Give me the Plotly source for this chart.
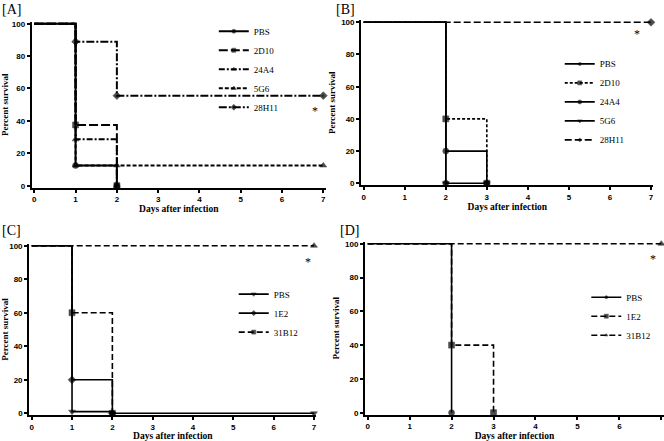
import plotly.graph_objects as go

W, H = 664, 441

# ---------------- data ----------------
# Panel A
A_names = ["PBS", "2D10", "24A4", "5G6", "28H11"]
A_x = [[0, 1, 2], [0, 1, 2], [0, 1, 2], [0, 1, 2, 7], [0, 1, 2, 7]]
A_y = [[100, 12.5, 0], [100, 37.5, 0], [100, 28.6, 0], [100, 12.5, 12.5, 12.5], [100, 88.9, 55.6, 55.6]]
A_sym = ["circle", "square", "triangle-up", "triangle-up", "diamond"]
A_dash = ["solid", "9px,3px", "6px,2px,2px,2px", "4px,2px", "8px,2px,2px,2px"]

# Panel B
B_names = ["PBS", "2D10", "24A4", "5G6", "28H11"]
B_x = [[0, 2], [0, 2, 3], [0, 2, 3], [0, 2, 3], [0, 7]]
B_y = [[100, 0], [100, 40, 0], [100, 20, 0], [100, 0, 0], [100, 100]]
B_sym = ["circle", "square", "circle", "triangle-down", "diamond"]
B_dash = ["solid", "3px,2px", "solid", "solid", "7px,3px"]

# Panel C
C_names = ["PBS", "1E2", "31B12"]
C_x = [[0, 1, 2, 7], [0, 1, 2], [0, 1, 2]]
C_y = [[100, 1, 0, 0], [100, 20, 0], [100, 60, 0]]
C_sym = ["triangle-down", "diamond", "square"]
C_dash = ["solid", "solid", "6px,3px"]
C_extra_x = [0, 7]
C_extra_y = [100, 100]

# Panel D
D_names = ["PBS", "1E2", "31B12"]
D_x = [[0, 2], [0, 2, 3], [0, 7]]
D_y = [[100, 0], [100, 40, 0], [100, 100]]
D_sym = ["circle", "square", "triangle-up"]
D_dash = ["solid", "6px,3px", "6px,3px"]

x_ticks = [0, 1, 2, 3, 4, 5, 6, 7]
y_ticks = [0, 20, 40, 60, 80, 100]
x_title = "Days after infection"
y_title = "Percent survival"
panel_labels = ["[A]", "[B]", "[C]", "[D]"]

# ---------------- layout geometry (pixel positions of x=0, x=7, y=0, y=100) ----------------
XPAD, YPAD = 0.06, 1.2
geo = {
    "A": (34.3, 323.3, 185.7, 23.7),
    "B": (363.7, 651.0, 183.3, 22.3),
    "C": (31.7, 314.0, 413.3, 245.7),
    "D": (367.7, 661.3, 412.7, 243.7),
}


def domains(px0, px7, py0, py100):
    dx = (px7 - px0) / 7.0
    dy = (py0 - py100) / 100.0
    left = px0 - XPAD * dx
    right = px7 + XPAD * dx
    bottom = py0 + YPAD * dy
    top = py100 - YPAD * dy
    return [left / W, right / W], [1 - bottom / H, 1 - top / H]


fig = go.Figure()

panels = [
    ("A", A_names, A_x, A_y, A_sym, A_dash, 2.0),
    ("B", B_names, B_x, B_y, B_sym, B_dash, 1.6),
    ("C", C_names, C_x, C_y, C_sym, C_dash, 1.6),
    ("D", D_names, D_x, D_y, D_sym, D_dash, 1.6),
]

serif = "Liberation Serif, Times New Roman"
tickfont = dict(family="Liberation Sans, Arial", size=8, color="black")
xtitlefont = dict(family=serif, size=9.5, color="black")
ytitlefont = dict(family=serif, size=9, color="black")

legend_pos = {
    "A": (0.322, 0.962),
    "B": (0.843, 0.888),
    "C": (0.352, 0.366),
    "D": (0.883, 0.359),
}

for i, (key, names, xs, ys, syms, dashes, lw) in enumerate(panels):
    n = i + 1
    xa = "x" if n == 1 else f"x{n}"
    ya = "y" if n == 1 else f"y{n}"
    leg = "legend" if n == 1 else f"legend{n}"
    for name, x, y, s, d in zip(names, xs, ys, syms, dashes):
        sizes = [0] + [6] * (len(x) - 1)
        fig.add_trace(go.Scatter(
            x=x, y=y, name=name, mode="lines+markers", line_shape="hv",
            line=dict(color="black", width=lw, dash=d),
            marker=dict(symbol=s, size=sizes, color="black", line=dict(width=0.6, color="black")),
            xaxis=xa, yaxis=ya, legend=leg, cliponaxis=False,
        ))
    if key == "C":
        fig.add_trace(go.Scatter(
            x=C_extra_x, y=C_extra_y, mode="lines+markers", line_shape="hv",
            line=dict(color="black", width=1.6, dash="6px,3px"),
            marker=dict(symbol="triangle-up", size=[0, 6], color="black", line=dict(width=0.6, color="black")),
            xaxis=xa, yaxis=ya, showlegend=False, cliponaxis=False,
        ))
    dx, dy = domains(*geo[key])
    axis_common = dict(
        showgrid=False, zeroline=False, showline=True, linecolor="black", linewidth=2.2,
        ticks="outside", ticklen=3, tickwidth=2, tickcolor="black",
        tickfont=tickfont, mirror=False, automargin=False,
    )
    fig.layout[f"xaxis{'' if n == 1 else n}"] = dict(
        axis_common, domain=dx, range=[-XPAD, 7 + XPAD], tickvals=x_ticks,
        ticktext=[f"<b>{t}</b>" for t in x_ticks], anchor=ya,
        title=dict(text=f"<b>{x_title}</b>", font=xtitlefont, standoff=2),
    )
    fig.layout[f"yaxis{'' if n == 1 else n}"] = dict(
        axis_common, domain=dy, range=[-YPAD, 100 + YPAD], tickvals=y_ticks,
        ticktext=[f"<b>{t}</b>" for t in y_ticks], anchor=xa,
        title=dict(text=f"<b>{y_title}</b>", font=ytitlefont, standoff=4),
    )
    lx, ly = legend_pos[key]
    fig.layout[leg] = dict(
        x=lx, y=ly, xanchor="left", yanchor="top",
        font=dict(family=serif, size=9, color="black"),
        bgcolor="rgba(0,0,0,0)", itemwidth=30, tracegroupgap=0,
    )

# panel labels and significance asterisks
label_pos = [(0.0, 1.0), (0.503, 1.0), (0.0, 0.5), (0.509, 0.5)]
for lab, (px, py) in zip(panel_labels, label_pos):
    fig.add_annotation(x=px, y=py, xref="paper", yref="paper", xanchor="left", yanchor="top",
                       text=lab, showarrow=False,
                       font=dict(family=serif, size=14, color="black"))

star_pos = [("x", "y", 6.8, 46), ("x2", "y2", 6.65, 93), ("x3", "y3", 6.85, 90), ("x4", "y4", 6.8, 91)]
for xr, yr, sx, sy in star_pos:
    fig.add_annotation(x=sx, y=sy, xref=xr, yref=yr, text="*", showarrow=False,
                       font=dict(family=serif, size=12, color="black"))

fig.update_layout(
    width=W, height=H, margin=dict(l=0, r=0, t=0, b=0, autoexpand=False),
    paper_bgcolor="white", plot_bgcolor="white", showlegend=True,
)

fig.write_html("out.html", config={"displayModeBar": False},
               post_script="document.body.style.margin='0';document.body.style.overflow='hidden';")
